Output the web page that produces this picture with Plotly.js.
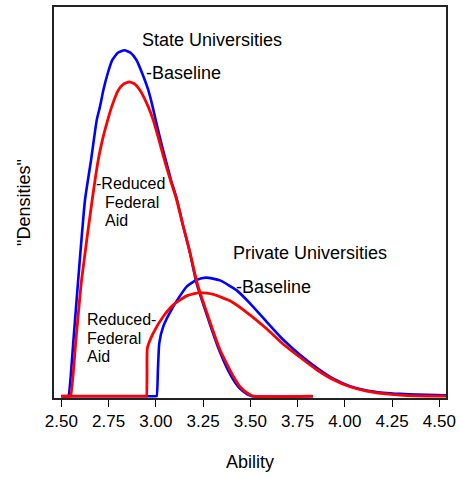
<!DOCTYPE html>
<html>
<head>
<meta charset="utf-8">
<script src="https://cdn.plot.ly/plotly-3.0.1.min.js"></script>
<style>html,body{margin:0;padding:0;background:#fff;}#chart{width:460px;height:478px;}</style>
</head>
<body>
<div id="chart"></div>
<script>
// State universities, baseline
var stateBaseX = [2.500,2.530,2.537,2.564,2.589,2.625,2.657,2.687,2.704,2.722,2.745,2.769,2.799,2.833,2.866,2.898,2.928,2.960,2.983,2.999,3.022,3.038,3.059,3.080,3.112,3.143,3.177,3.215,3.273,3.334,3.397,3.440,3.482,3.508,3.831];
var stateBaseY = [0,0,0,0.565,1.165,1.965,2.365,2.765,2.898,3.065,3.232,3.365,3.440,3.465,3.440,3.365,3.232,3.065,2.898,2.765,2.585,2.465,2.315,2.165,1.965,1.715,1.465,1.135,0.795,0.465,0.205,0.085,0.020,0,0];
// State universities, reduced federal aid
var stateRedX = [2.500,2.542,2.549,2.577,2.607,2.663,2.695,2.717,2.745,2.766,2.801,2.829,2.859,2.889,2.916,2.960,2.986,3.009,3.031,3.053,3.077,3.110,3.143,3.177,3.218,3.277,3.339,3.410,3.450,3.493,3.519,3.831];
var stateRedY = [0,0,0,0.565,1.165,1.965,2.365,2.565,2.765,2.898,3.065,3.125,3.148,3.125,3.065,2.898,2.765,2.615,2.465,2.315,2.165,1.965,1.715,1.465,1.135,0.795,0.465,0.198,0.085,0.020,0,0];
// Private universities, baseline
var privBaseX = [2.500,2.998,3.004,3.011,3.018,3.039,3.092,3.163,3.216,3.265,3.339,3.428,3.498,3.586,3.674,3.762,3.851,3.939,4.027,4.115,4.203,4.292,4.380,4.535];
var privBaseY = [0,0,0,0.27,0.532,0.698,0.898,1.098,1.165,1.188,1.160,1.060,0.930,0.745,0.565,0.415,0.285,0.175,0.100,0.057,0.035,0.023,0.017,0.010];
// Private universities, reduced federal aid
var privRedX = [2.500,2.945,2.950,2.953,2.955,2.986,3.039,3.092,3.163,3.233,3.304,3.392,3.480,3.586,3.674,3.762,3.851,3.939,4.027,4.115,4.203,4.292,4.380,4.535];
var privRedY = [0,0,0,0.24,0.482,0.632,0.798,0.915,1.005,1.038,1.020,0.955,0.840,0.675,0.520,0.390,0.265,0.165,0.095,0.050,0.025,0.010,0.003,0];

var tickVals = [2.50,2.75,3.00,3.25,3.50,3.75,4.00,4.25,4.50];
var tickText = ["2.50","2.75","3.00","3.25","3.50","3.75","4.00","4.25","4.50"];

var labelText = ["State Universities","-Baseline","-Reduced","Federal","Aid","Private Universities","-Baseline","Reduced-","Federal","Aid"];
var labelX = [2.918,2.935,2.675,2.719,2.719,3.400,3.415,2.626,2.626,2.626];
var labelY = [3.565,3.235,2.135,1.938,1.758,1.432,1.092,0.765,0.582,0.398];
var labelSize = [18,18,16,16,16,18,18,16,16,16];

var BLUE = "#0000ff", RED = "#ff0000";
function tr(x, y, c, w) {
  return {x: x, y: y, type: "scatter", mode: "lines",
    line: {color: c, width: w, shape: "spline", smoothing: 0.5},
    hoverinfo: "skip", showlegend: false};
}
var data = [
  tr(stateBaseX, stateBaseY, BLUE, 2.6),
  tr(privBaseX, privBaseY, BLUE, 2.6),
  tr(stateRedX, stateRedY, RED, 2.8),
  tr(privRedX, privRedY, RED, 2.8)
];

var annotations = labelText.map(function (t, i) {
  return {text: t, x: labelX[i], y: labelY[i], xref: "x", yref: "y",
    xanchor: "left", yanchor: "middle", showarrow: false,
    font: {family: "Liberation Sans, Arial, sans-serif", size: labelSize[i], color: "#000"}};
});

var layout = {
  width: 460, height: 478,
  margin: {l: 54, r: 14, t: 7, b: 80},
  paper_bgcolor: "#fff", plot_bgcolor: "#fff",
  font: {family: "Liberation Sans, Arial, sans-serif", color: "#000"},
  showlegend: false,
  xaxis: {
    range: [2.461, 4.535], tickvals: tickVals, ticktext: tickText,
    ticks: "outside", ticklen: 7, tickwidth: 1, tickcolor: "#000",
    tickfont: {size: 17, color: "#000"},
    showline: true, mirror: true, linecolor: "#222", linewidth: 1.8,
    showgrid: false, zeroline: false,
    title: {text: "Ability", font: {size: 18, color: "#000"}, standoff: 25}
  },
  yaxis: {
    range: [-0.018, 3.898], showticklabels: false, ticks: "",
    showline: true, mirror: true, linecolor: "#222", linewidth: 1.8,
    showgrid: false, zeroline: false,
    title: {text: "\"Densities\"", font: {size: 18, color: "#000"}, standoff: 17}
  },
  annotations: annotations
};

Plotly.newPlot("chart", data, layout, {displayModeBar: false, staticPlot: true});
</script>
</body>
</html>
